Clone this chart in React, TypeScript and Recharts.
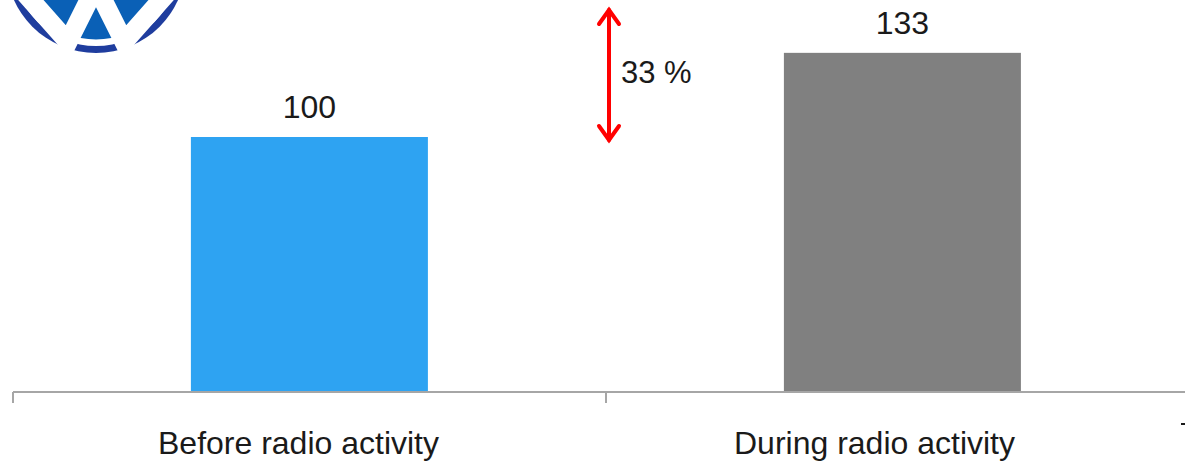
import { Bar, BarChart, LabelList, XAxis, YAxis } from "recharts";

const categories = ["Before radio activity", "During radio activity"];
const indexValues = [100, 133];
const barColors = ["#2ea3f2", "#808080"];
const upliftLabel = "33 %";

const data = categories.map((name, i) => ({
  name,
  value: indexValues[i],
  color: barColors[i],
}));

const FONT = '"Liberation Sans", Arial, sans-serif';
const AXIS_GREY = "#a6a6a6";
// the source slide has its category labels nudged left of the bar centres
const LABEL_NUDGE = [-11, -28];

// category label + tick mark on the category boundary (as Excel draws it)
function CategoryTick(props: any) {
  const { x, y, payload, index } = props;
  const half = payload.offset ?? 0;
  return (
    <g>
      <line x1={x - half} y1={y} x2={x - half} y2={y + 11} stroke={AXIS_GREY} strokeWidth={2} />
      {index === categories.length - 1 && (
        <line x1={x + half} y1={y} x2={x + half} y2={y + 11} stroke={AXIS_GREY} strokeWidth={2} />
      )}
      <text
        x={x + (LABEL_NUDGE[index] ?? 0)}
        y={y + 62}
        textAnchor="middle"
        fill="#1a1a1a"
        fontSize={32}
        fontFamily={FONT}
      >
        {payload.value}
      </text>
    </g>
  );
}

function VwLogo() {
  // cropped VW roundel in the top-left corner
  const cx = 96;
  const cy = -37;
  return (
    <g>
      <circle cx={cx} cy={cy} r={90} fill="#1f3d9e" />
      <circle cx={cx} cy={cy} r={83} fill="#ffffff" />
      <circle cx={cx} cy={cy} r={79} fill="#0a60b6" />
      <polyline
        points="22,-10 68,42 96,-14 124,42 170,-10"
        fill="none"
        stroke="#ffffff"
        strokeWidth={19}
        strokeLinejoin="miter"
      />
      <circle cx={cx} cy={cy} r={79} fill="none" stroke="#ffffff" strokeWidth={5} />
    </g>
  );
}

function Annotations() {
  const x = 609;
  const top = 8;
  const bottom = 142;
  return (
    <svg
      width={1185}
      height={463}
      style={{ position: "absolute", left: 0, top: 0, pointerEvents: "none" }}
    >
      <VwLogo />
      <g stroke="#ff0000" strokeWidth={4} fill="none" strokeLinecap="round">
        <line x1={x} y1={top + 2} x2={x} y2={bottom - 2} />
        <polyline points={`${x - 10},${top + 16} ${x},${top + 2} ${x + 10},${top + 16}`} />
        <polyline points={`${x - 10},${bottom - 16} ${x},${bottom - 2} ${x + 10},${bottom - 16}`} />
      </g>
      <text x={621} y={83} fontFamily={FONT} fontSize={31} fill="#1a1a1a">
        {upliftLabel}
      </text>
      <rect x={1181} y={423} width={4} height={2} fill="#1a1a1a" />
    </svg>
  );
}

export default function App() {
  return (
    <div
      style={{
        position: "absolute",
        left: 0,
        top: 0,
        width: 1185,
        height: 463,
        overflow: "hidden",
        background: "#ffffff",
      }}
    >
      <BarChart
        width={1199}
        height={463}
        data={data}
        margin={{ top: 35, right: 0, bottom: 0, left: 13 }}
        barCategoryGap="30%"
      >
        <XAxis
          dataKey="name"
          height={71}
          stroke={AXIS_GREY}
          strokeWidth={2}
          tickLine={false}
          tickSize={0}
          tickMargin={0}
          interval={0}
          tick={<CategoryTick />}
        />
        <YAxis hide domain={[0, 140]} />
        <Bar
          dataKey="value"
          isAnimationActive={false}
          shape={(props: any) => (
            <rect
              x={props.x}
              y={props.y}
              width={props.width}
              height={props.height}
              fill={props.payload.color}
            />
          )}
        >
          <LabelList
            dataKey="value"
            position="top"
            offset={19}
            fill="#1a1a1a"
            fontSize={32}
            fontFamily={FONT}
          />
        </Bar>
      </BarChart>
      <Annotations />
    </div>
  );
}
